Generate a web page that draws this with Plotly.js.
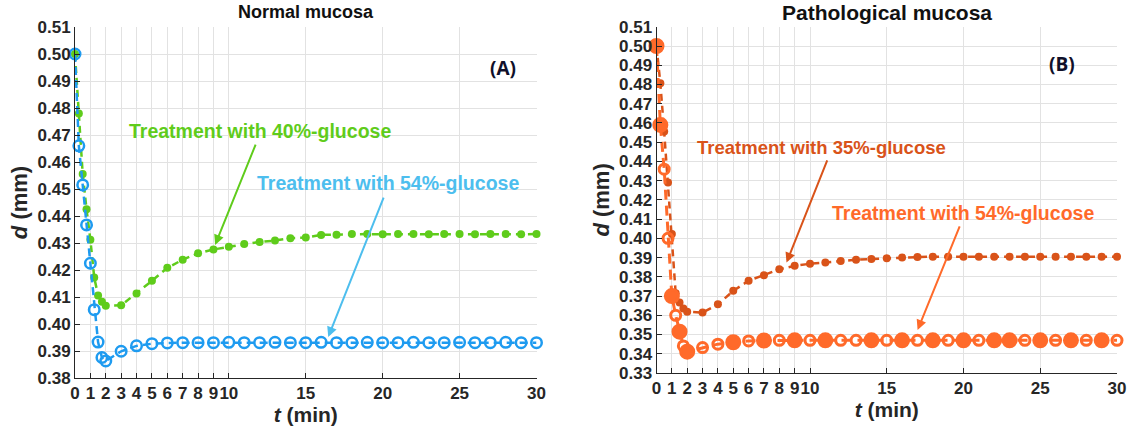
<!DOCTYPE html>
<html>
<head>
<meta charset="utf-8">
<script src="https://cdn.plot.ly/plotly-3.0.1.min.js"></script>
<style>
  html, body { margin: 0; padding: 0; background: #ffffff; }
  #chart { width: 1127px; height: 437px; }
</style>
</head>
<body>
<div id="chart"></div>
<script>
// ---- data ----
const timeMin = [0, 0.25, 0.5, 0.75, 1, 1.25, 1.5, 1.75, 2, 3, 4, 5, 6, 7, 8, 9, 10, 11, 12, 13, 14, 15, 16, 17, 18, 19, 20, 21, 22, 23, 24, 25, 26, 27, 28, 29, 30];

// (A) Normal mucosa
const normal40 = [0.500, 0.478, 0.4556, 0.4425, 0.4312, 0.4172, 0.4106, 0.4082, 0.4068,
  0.4069, 0.4113, 0.4160, 0.4208, 0.4238, 0.4262, 0.4276, 0.4286, 0.4296, 0.4304, 0.4309,
  0.4318, 0.4320, 0.4330, 0.4331, 0.4333, 0.4333, 0.4332, 0.4333, 0.4333, 0.4332, 0.4333,
  0.4333, 0.4332, 0.4333, 0.4333, 0.4332, 0.4333];
const normal54 = [0.500, 0.466, 0.4515, 0.4367, 0.4225, 0.4053, 0.3933, 0.3876, 0.3863,
  0.3899, 0.3919, 0.3927, 0.3930, 0.3931, 0.3931, 0.3931, 0.3932, 0.3931, 0.3931, 0.3932,
  0.3931, 0.3931, 0.3932, 0.3931, 0.3931, 0.3932, 0.3931, 0.3931, 0.3932, 0.3931, 0.3931,
  0.3932, 0.3931, 0.3931, 0.3932, 0.3931, 0.3931];

// (B) Pathological mucosa
const patho35 = [0.500, 0.4806, 0.4555, 0.4290, 0.4023, 0.3714, 0.3666, 0.3636, 0.3619,
  0.3614, 0.3657, 0.3727, 0.3780, 0.3808, 0.3839, 0.3857, 0.3868, 0.3874, 0.3882, 0.3889,
  0.3893, 0.3896, 0.3900, 0.3903, 0.3905, 0.3905, 0.3905, 0.3905, 0.3905, 0.3905, 0.3905,
  0.3905, 0.3905, 0.3905, 0.3905, 0.3905, 0.3905];
const patho54 = [0.500, 0.4590, 0.4360, 0.4000, 0.3700, 0.3600, 0.3515, 0.3441, 0.3411,
  0.3432, 0.3450, 0.3460, 0.3467, 0.3469, 0.3470, 0.3470, 0.3470, 0.3470, 0.3470, 0.3470,
  0.3470, 0.3470, 0.3470, 0.3470, 0.3470, 0.3470, 0.3470, 0.3470, 0.3470, 0.3470, 0.3470,
  0.3470, 0.3470, 0.3470, 0.3470, 0.3470, 0.3470];

const xTickVals = [0, 1, 2, 3, 4, 5, 6, 7, 8, 9, 10, 15, 20, 25, 30];
const xTickText = ["0", "1", "2", "3", "4", "5", "6", "7", "8", "9", "10", "15", "20", "25", "30"];

const panelTitles = ["Normal mucosa", "Pathological mucosa"];
const panelTags = ["(A)", "(B)"];
const seriesNames = ["Treatment with 40%-glucose", "Treatment with 54%-glucose",
                     "Treatment with 35%-glucose", "Treatment with 54%-glucose"];

// ---- styles ----
const cGreen = "#5FCC1B";
const cBlue = "#1E9BF0";
const cBlueTxt = "#4DBEEE";
const cDark = "#D95319";
const cLight = "#FF6A2A";
const FONT = "Liberation Sans, Arial, sans-serif";
const ink = "#262626";

// filled (F) / open (O) markers of the 54% pathological series, as seen in the picture
const lightPattern = "FFOOFOFOF" + "OOFOFOFOFOOFOFOFOFOFFOFOFOFO";
const lightSymbols = lightPattern.split("").map(c => c === "F" ? "circle" : "circle-open");
const lightSizes = lightPattern.split("").map(c => c === "F" ? 13 : 10);

const traces = [
  { x: timeMin, y: normal40, xaxis: "x", yaxis: "y", name: seriesNames[0],
    mode: "lines+markers", cliponaxis: false,
    line: { color: cGreen, width: 2.5, dash: "7px,5px" },
    marker: { color: cGreen, size: 8, opacity: 1 } },
  { x: timeMin, y: normal54, xaxis: "x", yaxis: "y", name: seriesNames[1],
    mode: "lines+markers", cliponaxis: false,
    line: { color: cBlue, width: 2.5, dash: "8px,5px" },
    marker: { color: cBlue, size: 10.5, opacity: 1, symbol: "circle-open", line: { color: cBlue, width: 2.5 } } },
  { x: timeMin, y: patho35, xaxis: "x2", yaxis: "y2", name: seriesNames[2],
    mode: "lines+markers", cliponaxis: false,
    line: { color: cDark, width: 2.5, dash: "7px,5px" },
    marker: { color: cDark, size: 8, opacity: 1 } },
  { x: timeMin, y: patho54, xaxis: "x2", yaxis: "y2", name: seriesNames[3],
    mode: "lines+markers", cliponaxis: false,
    line: { color: cLight, width: 3, dash: "10px,6px" },
    marker: { color: cLight, size: lightSizes, opacity: 1, symbol: lightSymbols, line: { color: cLight, width: 3 } } }
];

const W = 1127, H = 437;
function xAxis(d0, d1, anchor) {
  return {
    domain: [d0 / W, d1 / W], range: [0, 30], anchor: anchor,
    tickmode: "array", tickvals: xTickVals, ticktext: xTickText, tickangle: 0,
    ticks: "inside", ticklen: 5, tickcolor: ink, tickwidth: 1,
    showline: true, linecolor: ink, linewidth: 1, zeroline: false,
    showgrid: true, gridcolor: "#e2e2e2", gridwidth: 1,
    tickfont: { family: FONT, size: 17, color: ink, weight: "bold" },
    automargin: false, fixedrange: true,
    title: { text: "<i>t</i> (min)", font: { family: FONT, size: 21, color: ink, weight: "bold" }, standoff: 3 }
  };
}
function yAxis(top, bottom, lo, hi, anchor) {
  return {
    domain: [1 - bottom / H, 1 - top / H], range: [lo, hi], anchor: anchor,
    dtick: 0.01, tick0: 0, tickformat: ".2f",
    ticks: "inside", ticklen: 5, tickcolor: ink, tickwidth: 1,
    showline: true, linecolor: ink, linewidth: 1, zeroline: false,
    showgrid: true, gridcolor: "#e2e2e2", gridwidth: 1,
    tickfont: { family: FONT, size: 17, color: ink, weight: "bold" },
    automargin: false, fixedrange: true,
    title: { text: "<i>d</i> (mm)", font: { family: FONT, size: 22, color: ink, weight: "bold" }, standoff: 3 }
  };
}

const annoFont = (c, s) => ({ family: FONT, size: s, color: c, weight: "bold" });

const layout = {
  width: W, height: H,
  margin: { l: 0, r: 0, t: 0, b: 0 },
  paper_bgcolor: "#ffffff", plot_bgcolor: "#ffffff",
  showlegend: false,
  xaxis: xAxis(75, 536.5, "y"),
  yaxis: yAxis(27, 378, 0.38, 0.51, "x"),
  xaxis2: xAxis(656.5, 1117, "y2"),
  yaxis2: yAxis(26.8, 373, 0.33, 0.51, "x2"),
  annotations: [
    // panel titles
    { xref: "paper", yref: "paper", x: 306 / W, y: 1 - 12 / H, xanchor: "center", yanchor: "middle",
      text: panelTitles[0], showarrow: false, font: annoFont("#111111", 18) },
    { xref: "paper", yref: "paper", x: 887 / W, y: 1 - 12 / H, xanchor: "center", yanchor: "middle",
      text: panelTitles[1], showarrow: false, font: annoFont("#111111", 21) },
    // panel tags
    { xref: "x", yref: "y", x: 27.85, y: 0.4948, xanchor: "center", yanchor: "middle",
      text: panelTags[0], showarrow: false, font: { family: "Open Sans, sans-serif", size: 19, color: "#10102a", weight: "bold" } },
    { xref: "x2", yref: "y2", x: 26.4, y: 0.4906, xanchor: "center", yanchor: "middle",
      text: panelTags[1], showarrow: false, font: { family: "Open Sans, sans-serif", size: 19, color: "#10102a", weight: "bold" } },
    // series labels
    { xref: "x", yref: "y", x: 12.04, y: 0.4715, xanchor: "center", yanchor: "middle",
      text: seriesNames[0], showarrow: false, font: annoFont(cGreen, 19.5) },
    { xref: "x", yref: "y", x: 20.33, y: 0.4522, xanchor: "center", yanchor: "middle",
      text: seriesNames[1], showarrow: false, font: annoFont(cBlueTxt, 19.5) },
    { xref: "x2", yref: "y2", x: 10.77, y: 0.447, xanchor: "center", yanchor: "middle",
      text: seriesNames[2], showarrow: false, font: annoFont(cDark, 18.5) },
    { xref: "x2", yref: "y2", x: 19.97, y: 0.4132, xanchor: "center", yanchor: "middle",
      text: seriesNames[3], showarrow: false, font: annoFont(cLight, 19.5) },
    // arrows
    { xref: "x", yref: "y", axref: "x", ayref: "y", x: 9.11, y: 0.4293, ax: 11.78, ay: 0.467,
      text: "", showarrow: true, arrowhead: 2, arrowsize: 1, arrowwidth: 2, arrowcolor: cGreen, standoff: 0 },
    { xref: "x", yref: "y", axref: "x", ayref: "y", x: 16.46, y: 0.3952, ax: 20.1, ay: 0.4474,
      text: "", showarrow: true, arrowhead: 2, arrowsize: 1, arrowwidth: 2, arrowcolor: cBlueTxt, standoff: 0 },
    { xref: "x2", yref: "y2", axref: "x2", ayref: "y2", x: 8.47, y: 0.3874, ax: 11.16, ay: 0.4413,
      text: "", showarrow: true, arrowhead: 2, arrowsize: 1, arrowwidth: 2, arrowcolor: cDark, standoff: 0 },
    { xref: "x2", yref: "y2", axref: "x2", ayref: "y2", x: 17.01, y: 0.3524, ax: 19.79, ay: 0.407,
      text: "", showarrow: true, arrowhead: 2, arrowsize: 1, arrowwidth: 2, arrowcolor: cLight, standoff: 0 }
  ]
};

Plotly.newPlot("chart", traces, layout, { displayModeBar: false, staticPlot: true });
</script>
</body>
</html>
